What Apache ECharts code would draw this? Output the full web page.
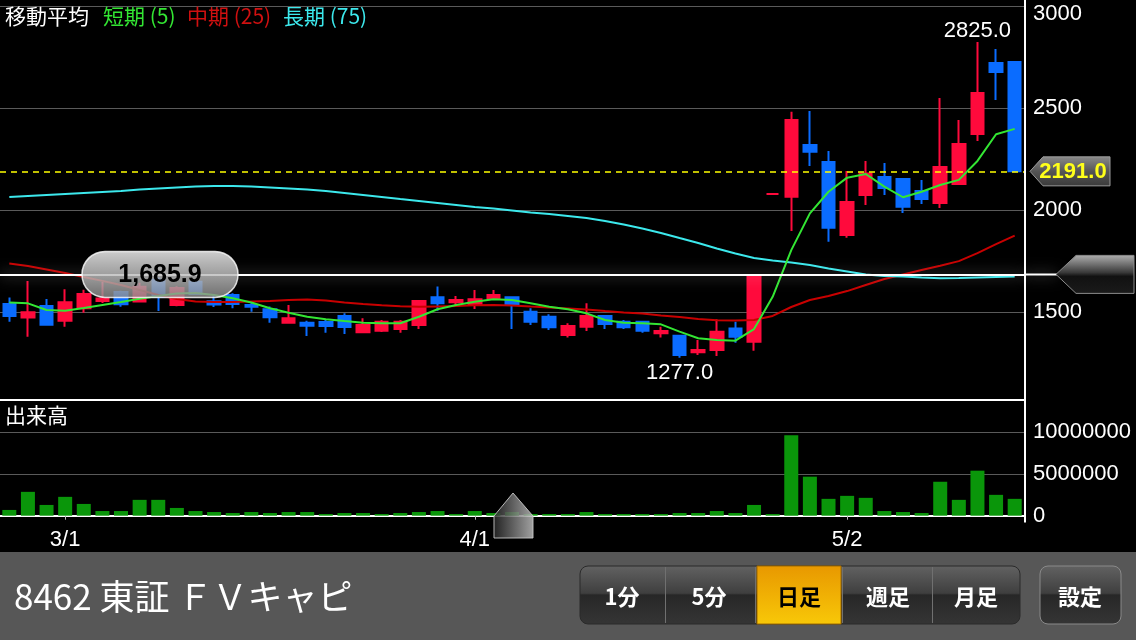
<!DOCTYPE html>
<html>
<head>
<meta charset="utf-8">
<style>
  html, body { margin: 0; padding: 0; background: #000; }
  #chart { width: 1136px; height: 640px; }
</style>
<script src="https://cdn.jsdelivr.net/npm/echarts@6/dist/echarts.min.js"></script>
</head>
<body>
<div id="chart"></div>
<script>
// Daily trading sessions shown on the chart
const dates = ['2/25','2/26','2/29',
  '3/1','3/2','3/3','3/4','3/7','3/8','3/9','3/10','3/11','3/14','3/15','3/16','3/17','3/18','3/22','3/23','3/24','3/25','3/28','3/29','3/30','3/31',
  '4/1','4/4','4/5','4/6','4/7','4/8','4/11','4/12','4/13','4/14','4/15','4/18','4/19','4/20','4/21','4/22','4/25','4/26','4/27','4/28',
  '5/2','5/6','5/9','5/10','5/11','5/12','5/13','5/16','5/17','5/18'];

// Daily prices (yen)
const opens  = [1541,1474,1531,1459,1520,1555,1600,1553,1660,1536,1650,1554,1585,1536,1515,1449,1449,1452,1482,1402,1410,1418,1438,1574,1549,1536,1569,1574,1503,1478,1389,1429,1482,1454,1454,1397,1385,1304,1315,1420,1356,2080,2067,2320,2237,1879,2075,2163,2153,2095,2036,2129,2374,2722,2727];
const closes = [1482,1500,1439,1549,1590,1568,1540,1625,1575,1619,1590,1538,1541,1527,1476,1471,1434,1433,1428,1438,1454,1454,1556,1544,1560,1564,1585,1536,1454,1427,1433,1482,1443,1427,1410,1408,1291,1315,1405,1380,1680,2080,2443,2287,1915,2041,2181,2109,2018,2055,2212,2325,2575,2678,2191];
const highs  = [1572,1653,1565,1613,1610,1648,1606,1645,1670,1628,1660,1590,1593,1552,1528,1536,1459,1466,1495,1471,1462,1462,1556,1626,1580,1609,1609,1574,1520,1490,1446,1544,1482,1462,1459,1429,1385,1364,1466,1454,1680,2080,2483,2487,2291,2193,2242,2232,2153,2149,2551,2443,2825,2791,2727];
const lows   = [1454,1380,1437,1429,1498,1546,1527,1548,1506,1530,1585,1526,1520,1503,1449,1449,1384,1400,1394,1398,1403,1400,1418,1508,1531,1516,1565,1418,1438,1413,1376,1408,1418,1418,1400,1376,1277,1291,1286,1351,1312,2080,1899,2217,1846,1866,2026,2075,1987,2031,2011,2124,2340,2541,2191];

// Trading volume (shares)
const volumes = [690000,2860000,1290000,2260000,1410000,560000,560000,1900000,1900000,930000,560000,440000,320000,440000,320000,440000,440000,200000,320000,320000,200000,320000,440000,560000,200000,560000,320000,440000,200000,200000,200000,440000,200000,200000,200000,200000,320000,320000,560000,320000,1290000,200000,9640000,4680000,2020000,2380000,2140000,560000,440000,320000,4070000,1900000,5400000,2500000,2020000];

// Moving averages: short (5), middle (25), long (75)
const ma5  = [1548,1544,1511,1508,1521,1536,1550,1566,1580,1592,1595,1585,1569,1548,1520,1498,1478,1466,1457,1449,1446,1446,1478,1515,1536,1552,1564,1560,1544,1527,1515,1495,1462,1449,1446,1441,1405,1373,1364,1361,1418,1576,1805,1985,2091,2160,2178,2116,2064,2091,2124,2149,2242,2373,2399];
const ma25 = [1739,1727,1710,1693,1673,1654,1634,1609,1585,1565,1553,1550,1550,1553,1556,1560,1563,1558,1548,1541,1535,1530,1527,1529,1531,1534,1536,1533,1528,1524,1519,1514,1506,1499,1494,1484,1477,1467,1461,1460,1462,1482,1526,1560,1580,1604,1634,1663,1685,1707,1728,1751,1790,1834,1876];
const ma75 = [2065,2070,2075,2080,2085,2090,2095,2102,2107,2112,2117,2119,2119,2117,2112,2107,2102,2095,2085,2075,2065,2055,2046,2036,2026,2016,2009,1999,1989,1982,1972,1962,1948,1930,1911,1889,1864,1840,1813,1788,1766,1754,1744,1732,1715,1700,1685,1678,1675,1670,1667,1668,1671,1673,1675];

// Axis ticks
const priceTicks  = [1500, 2000, 2500, 3000];
const volumeTicks = [0, 5000000, 10000000];
const priceFloor = 1000;

// Crosshair reading
const crosshairPrice = 1685.9;

const FONT = "'Liberation Sans','Noto Sans CJK JP',sans-serif";
const CJK = "'Noto Sans CJK JP','Liberation Sans',sans-serif";
const UP = '#ff0a3c', DOWN = '#0a6cff';

const candleData = dates.map((d, i) => [opens[i], closes[i], lows[i], highs[i]]);
const iHigh = highs.indexOf(Math.max(...highs));
const iLow = lows.indexOf(Math.min(...lows));
const lastClose = closes[closes.length - 1];

const monthStart = (idx, val) => idx > 0 && val.split('/')[0] !== dates[idx - 1].split('/')[0];

const option = {
  backgroundColor: '#000',
  animation: false,
  grid: [
    { left: 0, right: 112, top: 6.3, height: 408 },
    { left: 0, right: 112, top: 432.3, height: 83.4 }
  ],
  xAxis: [
    { type: 'category', data: dates, gridIndex: 0, show: false, boundaryGap: true },
    {
      type: 'category', data: dates, gridIndex: 1, boundaryGap: true, offset: 6,
      axisLine: { show: true, lineStyle: { color: '#fff', width: 2 } },
      axisTick: { show: true, interval: monthStart, alignWithLabel: true, length: 4, lineStyle: { color: '#bbb' } },
      axisLabel: { interval: monthStart, color: '#fff', fontSize: 22, fontFamily: FONT, margin: 7 },
      splitLine: { show: false }
    }
  ],
  yAxis: [
    {
      type: 'value', gridIndex: 0, position: 'right',
      min: priceFloor, max: priceTicks[priceTicks.length - 1], interval: priceTicks[1] - priceTicks[0],
      axisLine: { show: false }, axisTick: { show: false },
      splitLine: { show: true, showMinLine: false, lineStyle: { color: '#5a5a5a', width: 1 } },
      axisLabel: {
        showMinLabel: false, color: '#fff', fontSize: 22, fontFamily: FONT, margin: 9,
        formatter: v => v === priceTicks[priceTicks.length - 1] ? '{top|' + v + '}' : String(v),
        rich: { top: { padding: [15, 0, 0, 0], color: '#fff', fontSize: 22, fontFamily: FONT } }
      }
    },
    {
      type: 'value', gridIndex: 1, position: 'right',
      min: volumeTicks[0], max: volumeTicks[volumeTicks.length - 1], interval: volumeTicks[1] - volumeTicks[0],
      axisLine: { show: false }, axisTick: { show: false },
      splitLine: { show: true, showMinLine: false, lineStyle: { color: '#5a5a5a', width: 1 } },
      axisLabel: { color: '#fff', fontSize: 22, fontFamily: FONT, margin: 9, formatter: v => String(v) }
    }
  ],
  series: [
    {
      name: '株価', type: 'candlestick', xAxisIndex: 0, yAxisIndex: 0,
      data: candleData, barWidth: 13,
      itemStyle: { color: UP, color0: DOWN, borderColor: UP, borderColor0: DOWN, borderWidth: 2 },
      markLine: {
        silent: true, symbol: ['none', 'none'], label: { show: false }, animation: false,
        lineStyle: { color: '#ffff00', width: 1.5, type: [6, 5], opacity: 1 },
        data: [
          { yAxis: lastClose },
          { yAxis: crosshairPrice, lineStyle: { color: '#fff', width: 2, type: 'solid', shadowColor: 'rgba(255,255,255,0.55)', shadowBlur: 14 } }
        ]
      },
      markPoint: {
        silent: true, symbol: 'circle', symbolSize: 1, itemStyle: { color: 'rgba(0,0,0,0)' },
        data: [
          { coord: [dates[iHigh], highs[iHigh]], value: highs[iHigh],
            label: { show: true, position: 'top', distance: 0, color: '#fff', fontSize: 22, fontFamily: FONT, formatter: p => p.value.toFixed(1) } },
          { coord: [dates[iLow], lows[iLow]], value: lows[iLow],
            label: { show: true, position: 'bottom', distance: 4, color: '#fff', fontSize: 22, fontFamily: FONT, formatter: p => p.value.toFixed(1) } }
        ]
      },
      z: 2
    },
    { name: '中期 (25)', type: 'line', data: ma25, xAxisIndex: 0, yAxisIndex: 0, symbol: 'none', lineStyle: { color: '#c80000', width: 2 }, z: 3 },
    { name: '長期 (75)', type: 'line', data: ma75, xAxisIndex: 0, yAxisIndex: 0, symbol: 'none', lineStyle: { color: '#3ce8ec', width: 2 }, z: 3 },
    { name: '短期 (5)', type: 'line', data: ma5, xAxisIndex: 0, yAxisIndex: 0, symbol: 'none', lineStyle: { color: '#33e633', width: 2 }, z: 4 },
    { name: '出来高', type: 'bar', data: volumes, xAxisIndex: 1, yAxisIndex: 1, barWidth: 14, itemStyle: { color: '#0a960a' } }
  ]
};

const chart = echarts.init(document.getElementById('chart'));
chart.setOption(option);

const yCross = chart.convertToPixel({ yAxisIndex: 0 }, crosshairPrice);
const yLast = chart.convertToPixel({ yAxisIndex: 0 }, lastClose);

const LG = echarts.graphic.LinearGradient;
const btnFill = () => new LG(0, 0, 0, 1, [
  { offset: 0, color: '#626262' }, { offset: 0.47, color: '#3f3f3f' },
  { offset: 0.5, color: '#272727' }, { offset: 1, color: '#353535' }
]);
const txt = (x, y, text, color, size, opts) => Object.assign({
  type: 'text', x, y, silent: true,
  style: { text, fill: color, font: (opts && opts.weight ? opts.weight + ' ' : '') + size + 'px ' + ((opts && opts.family) || CJK),
           align: (opts && opts.align) || 'left', verticalAlign: 'middle' }
}, (opts && opts.z) ? { z: opts.z } : {});

const tabs = [['1分', 622], ['5分', 709], ['日足', 799], ['週足', 888], ['月足', 976]];

const graphics = [
  // legend of the moving averages
  txt(5, 16, '移動平均', '#fff', 21),
  txt(103, 16, '短期 (5)', '#33e633', 21),
  txt(187, 16, '中期 (25)', '#d01010', 21),
  txt(283, 16, '長期 (75)', '#3ce8ec', 21),
  txt(5, 415, '出来高', '#fff', 21),

  // panel frame
  { type: 'line', silent: true, shape: { x1: 0, y1: 400, x2: 1025, y2: 400 }, style: { stroke: '#fff', lineWidth: 2 }, z: 10 },
  { type: 'line', silent: true, shape: { x1: 1025, y1: 0, x2: 1025, y2: 522.5 }, style: { stroke: '#fff', lineWidth: 2 }, z: 10 },

  // crosshair: extension, right-hand grip and value bubble
  { type: 'line', silent: true, shape: { x1: 1024, y1: yCross, x2: 1057, y2: yCross },
    style: { stroke: '#fff', lineWidth: 2, shadowColor: 'rgba(255,255,255,0.55)', shadowBlur: 14 }, z: 10 },
  { type: 'polygon', silent: true, z: 11,
    shape: { points: [[1056, yCross], [1076, yCross - 19], [1134, yCross - 19], [1134, yCross + 19], [1076, yCross + 19]] },
    style: { fill: new LG(0, 0, 0, 1, [{ offset: 0, color: '#b0b0b0' }, { offset: 0.45, color: '#3a3a3a' }, { offset: 0.55, color: '#111' }, { offset: 1, color: '#1a1a1a' }]),
             stroke: '#8c8c8c', lineWidth: 1 } },
  { type: 'rect', silent: true, z: 11,
    shape: { x: 82, y: yCross - 23, width: 156, height: 46, r: 23 },
    style: { fill: new LG(0, 0, 0, 1, [{ offset: 0, color: 'rgba(235,235,235,0.88)' }, { offset: 0.5, color: 'rgba(190,190,190,0.82)' }, { offset: 1, color: 'rgba(140,140,140,0.8)' }]),
             stroke: 'rgba(255,255,255,0.8)', lineWidth: 1.5 } },
  Object.assign(txt(160, yCross + 1, crosshairPrice.toLocaleString('en-US', { minimumFractionDigits: 1 }), '#000', 25,
    { weight: 'bold', family: FONT, align: 'center' }), { z: 12 }),

  // last price tag
  { type: 'polygon', silent: true, z: 11,
    shape: { points: [[1030, yLast], [1043, yLast - 14.5], [1110, yLast - 14.5], [1110, yLast + 14.5], [1043, yLast + 14.5]] },
    style: { fill: new LG(0, 0, 0, 1, [{ offset: 0, color: '#8a8a8a' }, { offset: 0.5, color: '#555' }, { offset: 1, color: '#3a3a3a' }]),
             stroke: '#9a9a9a', lineWidth: 1 } },
  Object.assign(txt(1073, yLast + 1, lastClose.toFixed(1), '#ffff1a', 22, { weight: 'bold', family: FONT, align: 'center' }), { z: 12 }),

  // scroll handle in the volume panel
  { type: 'polygon', silent: true, z: 11,
    shape: { points: [[513, 493], [533, 516], [533, 538], [494, 538], [494, 516]] },
    style: { fill: new LG(0, 0, 1, 0, [{ offset: 0, color: 'rgba(40,40,40,0.85)' }, { offset: 1, color: 'rgba(190,190,190,0.85)' }]),
             stroke: 'rgba(200,200,200,0.9)', lineWidth: 1 } },

  // bottom toolbar
  { type: 'rect', silent: true, z: 0, shape: { x: 0, y: 552, width: 1136, height: 88 }, style: { fill: '#575757' } },
  Object.assign(txt(14, 597, '8462 東証 ＦＶキャピ', '#fff', 35), { z: 5 }),
  { type: 'rect', silent: true, z: 5, shape: { x: 580, y: 566, width: 440, height: 58, r: 8 }, style: { fill: btnFill(), stroke: '#2a2a2a', lineWidth: 1 } },
  { type: 'rect', silent: true, z: 6, shape: { x: 757, y: 566, width: 84, height: 58 },
    style: { fill: new LG(0, 0, 0, 1, [{ offset: 0, color: '#e89800' }, { offset: 1, color: '#f8c808' }]), stroke: '#a06a00', lineWidth: 1 } },
  ...[665.5, 755.5, 842.5, 932.5].map(x => ({ type: 'line', silent: true, z: 7, shape: { x1: x, y1: 567, x2: x, y2: 623 }, style: { stroke: '#707070', lineWidth: 1 } })),
  ...tabs.map(([t, x]) => Object.assign(txt(x, 597, t, t === '日足' ? '#000' : '#fff', 22, { weight: 'bold', align: 'center' }), { z: 8 })),
  { type: 'rect', silent: true, z: 5, shape: { x: 1040, y: 566, width: 81, height: 58, r: 8 }, style: { fill: btnFill(), stroke: '#8a8a8a', lineWidth: 1 } },
  Object.assign(txt(1080, 597, '設定', '#fff', 22, { weight: 'bold', align: 'center' }), { z: 8 })
];

chart.setOption({ graphic: graphics });
</script>
</body>
</html>
